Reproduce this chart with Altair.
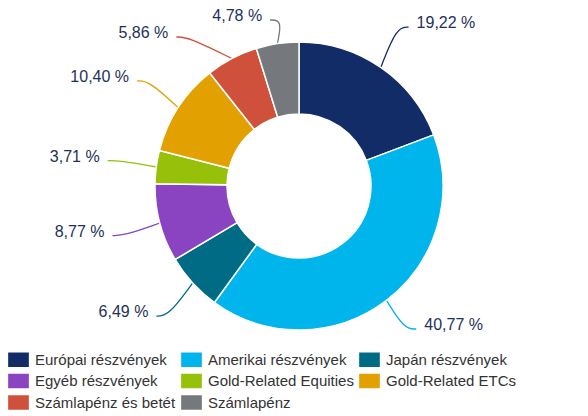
import math
import altair as alt
import pandas as pd

categories = ["Európai részvények", "Amerikai részvények", "Japán részvények",
              "Egyéb részvények", "Gold-Related Equities", "Gold-Related ETCs",
              "Számlapénz és betét", "Számlapénz"]
values = [19.22, 40.77, 6.49, 8.77, 3.71, 10.40, 5.86, 4.78]
colors = ["#122c68", "#00b4ec", "#006b85", "#8a43c1", "#97c00b", "#e2a100",
          "#d0513b", "#75787d"]

# geometry (pixels relative to donut centre)
R_OUT, R_IN, R_LBL = 144, 72, 193
Y_MIN, Y_MAX, GAP = -166, 143, 17
CX, CY, W, H = 291, 170, 572, 328

total = sum(values)
lbl = []
cum = 0.0
for i, (c, v, col) in enumerate(zip(categories, values, colors)):
    mid = (cum + v / 2) / total * 2 * math.pi
    cum += v
    s, co = math.sin(mid), math.cos(mid)
    side = 1 if s >= 0 else -1
    xe, ye0 = R_LBL * s, -R_LBL * co
    ye = min(max(ye0, Y_MIN), Y_MAX)
    lbl.append(dict(category=c, col=col, side=side, s=s, co=co, xe=xe, ye=ye, ye0=ye0,
                    label=f"{v:.2f}".replace(".", ",") + " %"))

for sd in (1, -1):
    items = sorted([d for d in lbl if d["side"] == sd], key=lambda d: d["ye0"])
    for k in range(1, len(items)):
        if items[k]["ye"] < items[k - 1]["ye"] + GAP:
            items[k]["ye"] = items[k - 1]["ye"] + GAP
            items[k]["xe"] = sd * math.sqrt(max(R_LBL ** 2 - items[k]["ye"] ** 2, 0))

line_rows = []
for d in lbl:
    p0 = (R_OUT * d["s"], -R_OUT * d["co"])
    p2 = (d["xe"], d["ye"])
    p1 = (d["xe"] - d["side"] * 12, d["ye"])
    for seq, (px, py) in enumerate([p0, p1, p2]):
        line_rows.append(dict(category=d["category"], col=d["col"], seq=seq, x=px, y=py))

df_arc = pd.DataFrame({"category": categories, "value": values, "idx": list(range(len(values)))})
df_lines = pd.DataFrame(line_rows)
df_lbl = pd.DataFrame(lbl)

xs = alt.Scale(domain=[-CX, W - CX], nice=False, zero=False)
ys = alt.Scale(domain=[-CY, H - CY], nice=False, zero=False, reverse=True)

legend = alt.Legend(
    title=None, orient="none", legendX=0, legendY=333, columns=3,
    direction="horizontal", gridAlign="each", columnPadding=5, rowPadding=2.5,
    symbolType="M-1,-0.7L1,-0.7L1,0.7L-1,0.7Z", symbolSize=428,
    symbolStrokeWidth=0, symbolOpacity=1, labelFont="Liberation Sans",
    labelFontSize=15, labelColor="#333333", labelLimit=0, labelOffset=6,
    padding=0,
)

arc = alt.Chart(df_arc).mark_arc(
    outerRadius=R_OUT, innerRadius=R_IN, stroke="white", strokeWidth=1.5
).encode(
    x=alt.XDatum(0, type="quantitative", scale=xs, axis=None),
    y=alt.YDatum(0, type="quantitative", scale=ys, axis=None),
    theta=alt.Theta("value:Q", stack=True),
    order=alt.Order("idx:Q"),
    color=alt.Color("category:N", scale=alt.Scale(domain=categories, range=colors),
                    sort=categories, legend=legend),
)

lines = alt.Chart(df_lines).mark_line(interpolate="basis", strokeWidth=1.3).encode(
    x=alt.X("x:Q", scale=xs, axis=None),
    y=alt.Y("y:Q", scale=ys, axis=None),
    detail="category:N",
    order="seq:Q",
    stroke=alt.Stroke("col:N", scale=None),
)

txt_style = dict(font="Liberation Sans", fontSize=16, color="#1e3159", baseline="middle", dy=-4)
txt_r = alt.Chart(df_lbl[df_lbl.side == 1]).mark_text(align="left", dx=8, **txt_style).encode(
    x=alt.X("xe:Q", scale=xs, axis=None), y=alt.Y("ye:Q", scale=ys, axis=None), text="label:N")
txt_l = alt.Chart(df_lbl[df_lbl.side == -1]).mark_text(align="right", dx=-8, **txt_style).encode(
    x=alt.X("xe:Q", scale=xs, axis=None), y=alt.Y("ye:Q", scale=ys, axis=None), text="label:N")

chart = alt.layer(lines, arc, txt_r, txt_l).properties(
    width=W, height=H, padding=0
).configure_view(stroke=None)

chart.save("out.html", embed_options={"renderer": "svg", "actions": False})
